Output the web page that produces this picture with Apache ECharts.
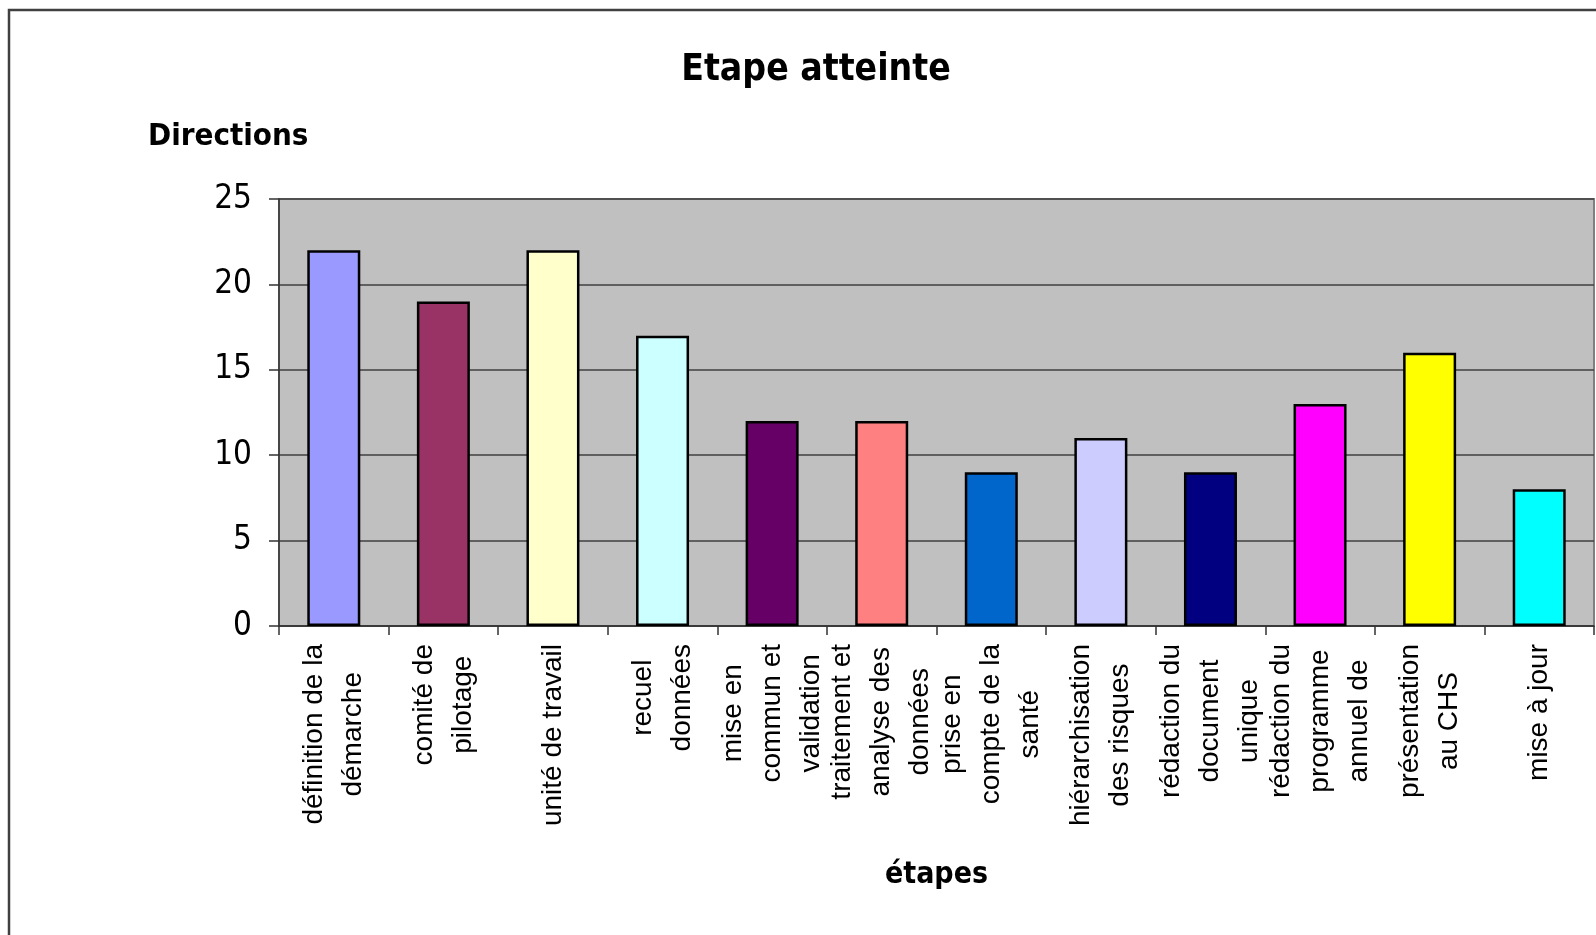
<!DOCTYPE html>
<html>
<head>
<meta charset="utf-8">
<script src="https://cdn.jsdelivr.net/npm/echarts@6/dist/echarts.min.js"></script>
<style>
html,body{margin:0;padding:0;background:#fff;}
#chart{width:1596px;height:935px;}
</style>
</head>
<body>
<div id="chart"></div>
<script>
const categories = [
  "définition de la\ndémarche",
  "comité de\npilotage",
  "unité de travail",
  "recuel\ndonnées",
  "mise en\ncommun et\nvalidation",
  "traitement et\nanalyse des\ndonnées",
  "prise en\ncompte de la\nsanté",
  "hiérarchisation\ndes risques",
  "rédaction du\ndocument\nunique",
  "rédaction du\nprogramme\nannuel de",
  "présentation\nau CHS",
  "mise à jour"
];
const values = [22, 19, 22, 17, 12, 12, 9, 11, 9, 13, 16, 8];
const barColors = ["#9999FF","#993366","#FFFFCC","#CCFFFF","#660066","#FF8080","#0066CC","#CCCCFF","#000080","#FF00FF","#FFFF00","#00FFFF"];
const titleText = "Etape atteinte";
const yName = "Directions";
const xName = "étapes";

const boldFont = '"DejaVu Sans Condensed", "DejaVu Sans", sans-serif';
const chart = echarts.init(document.getElementById('chart'), null, {renderer: 'canvas'});
chart.setOption({
  backgroundColor: '#ffffff',
  animation: false,
  graphic: [
    {type: 'rect', shape: {x: 9, y: 10, width: 1700, height: 1000}, style: {fill: 'none', stroke: '#404040', lineWidth: 2.5}, z: 100},
    {type: 'text', x: 816, y: 70, style: {text: titleText, font: 'bold 37px ' + boldFont, fill: '#000', align: 'center', verticalAlign: 'middle'}},
    {type: 'text', x: 148, y: 137, style: {text: yName, font: 'bold 31px ' + boldFont, fill: '#000', align: 'left', verticalAlign: 'middle'}}
  ],
  grid: {left: 279, top: 199, right: 2, bottom: 309, show: true, backgroundColor: '#C0C0C0', borderColor: '#808080', borderWidth: 2},
  xAxis: {
    type: 'category',
    data: categories,
    name: xName,
    nameLocation: 'middle',
    nameGap: 234,
    nameTextStyle: {fontFamily: boldFont, fontWeight: 'bold', fontSize: 30, color: '#000'},
    axisLine: {lineStyle: {color: '#333', width: 1.5}},
    axisTick: {show: true, length: 9, lineStyle: {color: '#333', width: 1.5}},
    axisLabel: {
      interval: 0,
      rotate: 90,
      margin: 18,
      formatter: function (v) { return v.split('\n').map(function (l) { return '{c|' + l + '}'; }).join('\n'); },
      rich: {c: {fontFamily: '"Liberation Sans", Arial, sans-serif', fontSize: 28, lineHeight: 39, align: 'center', color: '#000'}}
    }
  },
  yAxis: {
    type: 'value',
    min: 0, max: 25, interval: 5,
    axisLine: {show: true, lineStyle: {color: '#333', width: 1.5}},
    axisTick: {show: true, length: 10, lineStyle: {color: '#333', width: 1.5}},
    axisLabel: {fontFamily: boldFont, fontSize: 33, color: '#000', margin: 27},
    splitLine: {show: true, lineStyle: {color: '#404040', width: 1.5}}
  },
  series: [{
    type: 'bar',
    data: values.map(function (v, i) { return {value: v, itemStyle: {color: barColors[i]}}; }),
    barWidth: 53,
    itemStyle: {borderColor: '#000', borderWidth: 2.5}
  }]
});
</script>
</body>
</html>
